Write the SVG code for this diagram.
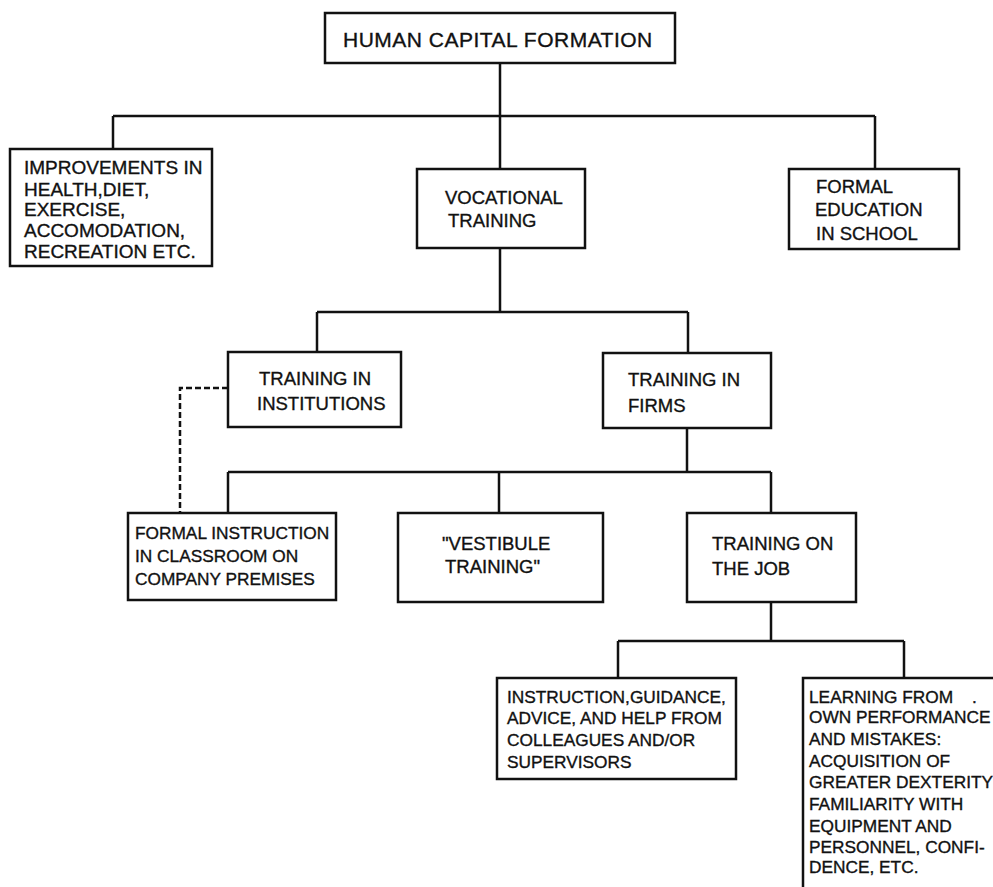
<svg xmlns="http://www.w3.org/2000/svg" width="993" height="887" viewBox="0 0 993 887">
<style>
.box{fill:#fff;stroke:#111;stroke-width:2.5}
.ln{fill:none;stroke:#111;stroke-width:2.5}
.dash{fill:none;stroke:#111;stroke-width:2.5;stroke-dasharray:6 3}
text{font-family:"Liberation Sans",Arial,sans-serif;fill:#111;stroke:#111;stroke-width:0.35}
.t21{font-size:21px;letter-spacing:0.5px}
.t19{font-size:19px}
.t18{font-size:18.5px}
.t17{font-size:17.3px}
</style>
<rect width="993" height="887" fill="#fff"/>
<g id="connectors">
<path class="ln" d="M500,63 V116 M113,116 H875 M113,116 V149 M500,116 V169 M875,116 V169"/>
<path class="ln" d="M500,248 V312 M317,312 H688 M317,312 V352 M688,312 V353"/>
<path class="ln" d="M687,428 V472 M228,472 H771 M228,472 V513 M499,472 V513 M771,472 V513"/>
<path class="dash" d="M228,388 H180 V513"/>
<path class="ln" d="M771,602 V641 M618,641 H904 M618,641 V678 M904,641 V678"/>
</g>
<g id="n-human">
<rect class="box" x="325" y="13" width="350" height="50"/>
<text class="t21" x="343" y="47">HUMAN CAPITAL FORMATION</text>
</g>
<g id="n-improvements">
<rect class="box" x="10" y="149" width="202" height="117"/>
<text class="t19" x="24" y="174">IMPROVEMENTS IN</text>
<text class="t19" x="24" y="196">HEALTH,DIET,</text>
<text class="t19" x="24" y="216">EXERCISE,</text>
<text class="t19" x="24" y="237">ACCOMODATION,</text>
<text class="t19" x="24" y="258">RECREATION ETC.</text>
</g>
<g id="n-vocational">
<rect class="box" x="417" y="169" width="168" height="79"/>
<text class="t18" x="445" y="204">VOCATIONAL</text>
<text class="t18" x="448" y="227">TRAINING</text>
</g>
<g id="n-formal-education">
<rect class="box" x="789" y="169" width="170" height="80"/>
<text class="t18" x="816" y="193">FORMAL</text>
<text class="t18" x="815" y="216">EDUCATION</text>
<text class="t18" x="816" y="240">IN SCHOOL</text>
</g>
<g id="n-institutions">
<rect class="box" x="228" y="352" width="173" height="75"/>
<text class="t18" x="259" y="385">TRAINING IN</text>
<text class="t18" x="257" y="410">INSTITUTIONS</text>
</g>
<g id="n-firms">
<rect class="box" x="603" y="353" width="168" height="75"/>
<text class="t18" x="628" y="386">TRAINING IN</text>
<text class="t18" x="628" y="412">FIRMS</text>
</g>
<g id="n-classroom">
<rect class="box" x="128" y="513" width="208" height="87"/>
<text class="t17" x="135" y="539">FORMAL INSTRUCTION</text>
<text class="t17" x="135" y="562">IN CLASSROOM ON</text>
<text class="t17" x="135" y="585">COMPANY PREMISES</text>
</g>
<g id="n-vestibule">
<rect class="box" x="398" y="513" width="205" height="89"/>
<text class="t18" x="442" y="550">"VESTIBULE</text>
<text class="t18" x="445" y="573">TRAINING"</text>
</g>
<g id="n-job">
<rect class="box" x="687" y="513" width="169" height="89"/>
<text class="t18" x="712" y="550">TRAINING ON</text>
<text class="t18" x="712" y="575">THE JOB</text>
</g>
<g id="n-instruction">
<rect class="box" x="497" y="678" width="239" height="101"/>
<text class="t17" x="507" y="703">INSTRUCTION,GUIDANCE,</text>
<text class="t17" x="507" y="724">ADVICE, AND HELP FROM</text>
<text class="t17" x="507" y="746">COLLEAGUES AND/OR</text>
<text class="t17" x="507" y="768">SUPERVISORS</text>
</g>
<g id="n-learning">
<rect class="box" x="803" y="678" width="200" height="220"/>
<text class="t17" x="809" y="703">LEARNING FROM<tspan x="972">.</tspan></text>
<text class="t17" x="809" y="723">OWN PERFORMANCE</text>
<text class="t17" x="809" y="745">AND MISTAKES:</text>
<text class="t17" x="809" y="767">ACQUISITION OF</text>
<text class="t17" x="809" y="788">GREATER DEXTERITY</text>
<text class="t17" x="809" y="810">FAMILIARITY WITH</text>
<text class="t17" x="809" y="832">EQUIPMENT AND</text>
<text class="t17" x="809" y="853">PERSONNEL, CONFI-</text>
<text class="t17" x="809" y="873">DENCE, ETC.</text>
</g>
</svg>
